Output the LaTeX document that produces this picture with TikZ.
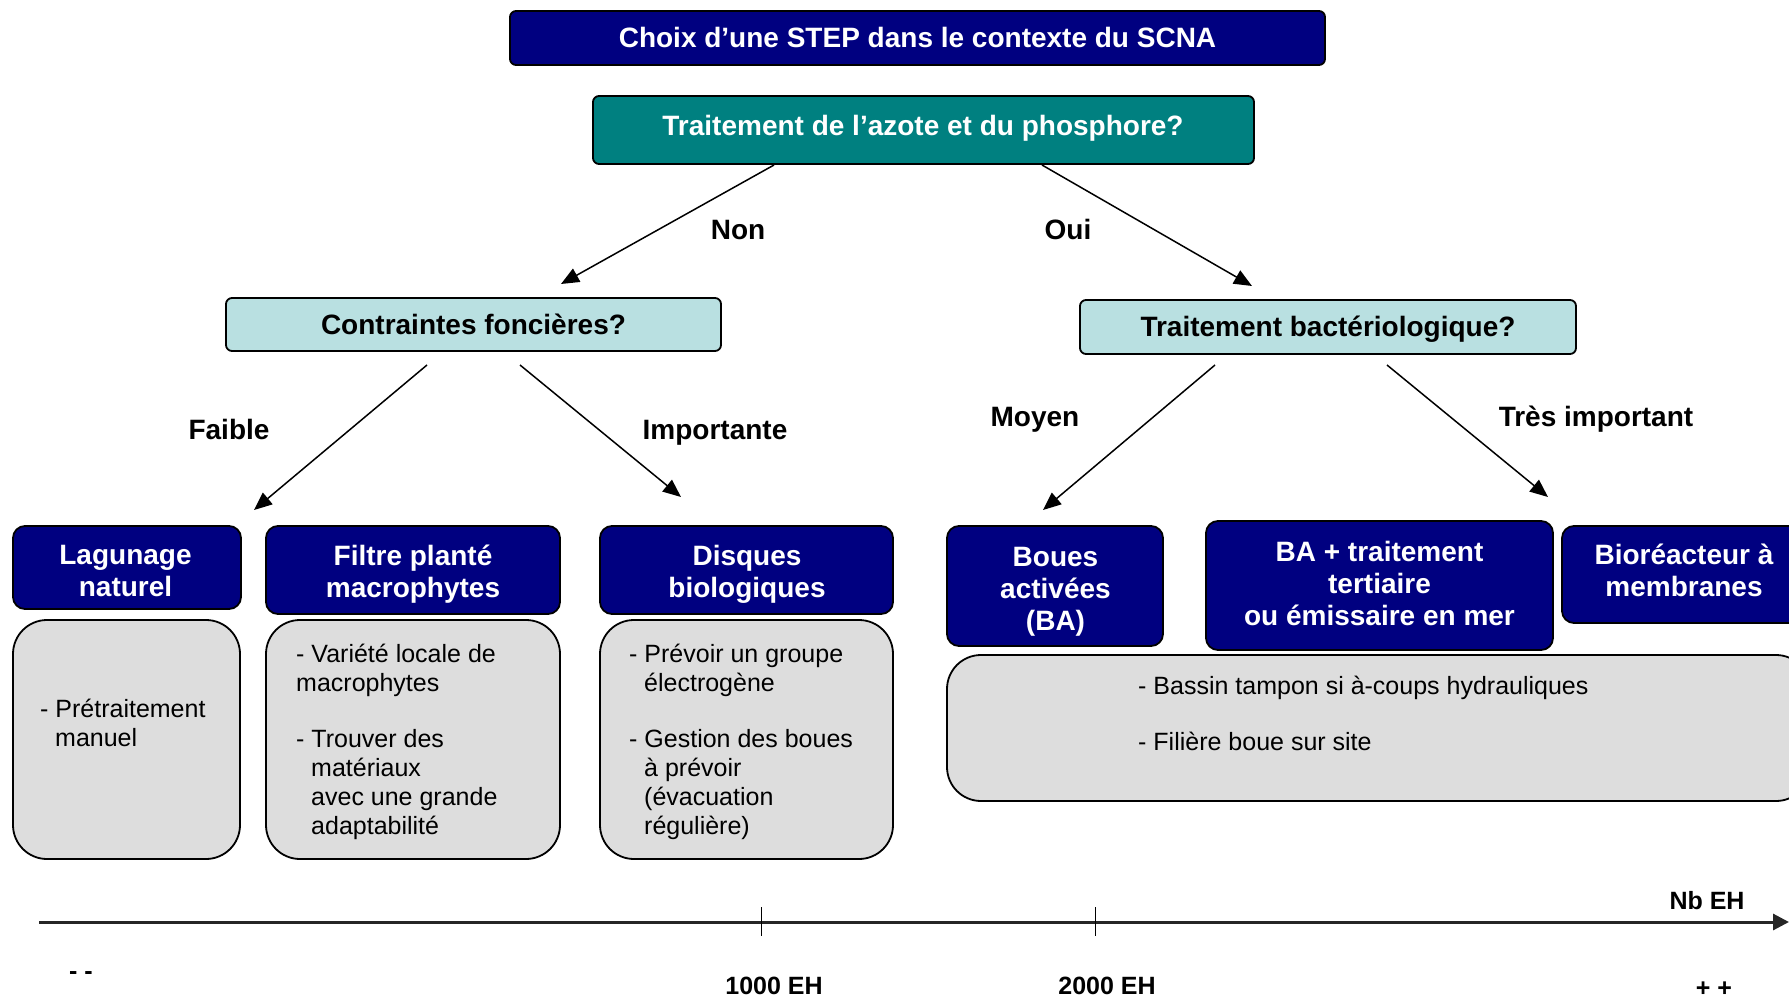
\documentclass[tikz,border=0pt]{standalone}
\usepackage{fontspec}
\setmainfont{Liberation Sans}
\usetikzlibrary{arrows.meta}
\definecolor{navyb}{HTML}{000080}
\definecolor{tealb}{HTML}{008080}
\definecolor{lightb}{HTML}{B9E0E1}
\definecolor{greyb}{HTML}{DDDDDD}
\begin{document}
\begin{tikzpicture}[x=1pt,y=-1pt,
  darkbox/.style={draw=black, line width=1.8pt, fill=navyb, rounded corners=12pt, inner sep=0pt},
  darktext/.style={text=white, font=\fontsize{28}{32}\selectfont\bfseries, align=center, inner sep=0pt},
  topbox/.style={draw=black, line width=1.8pt, rounded corners=6pt, inner sep=0pt,
    font=\fontsize{28}{32}\selectfont\bfseries, text height=23pt, text depth=4pt},
  greybox/.style={draw=black, line width=1.8pt, fill=greyb, rounded corners=34pt, inner sep=0pt},
  greytext/.style={anchor=north west, inner sep=0pt, align=left, font=\fontsize{25}{29}\selectfont},
  lbl/.style={font=\fontsize{28}{32}\selectfont\bfseries, inner sep=0pt, anchor=base},
  axlbl/.style={font=\fontsize{25}{29}\selectfont\bfseries, inner sep=0pt, anchor=base},
  arr/.style={line width=1.5pt, -{Triangle[length=18pt,width=15pt]}},
]
\clip (0,0) rectangle (1789,998);
\fill[white] (0,0) rectangle (1789,998);

% top boxes
\node[topbox, fill=navyb, text=white, minimum width=815, minimum height=54] (title) at (917.5,38) {Choix d’une STEP dans le contexte du SCNA};
\node[topbox, fill=tealb, minimum width=661, minimum height=68] (azote) at (923.5,130) {};
\node[topbox, draw=none, text=white] (azoteT) at (923,125.5) {Traitement de l’azote et du phosphore?};

\node[topbox, fill=lightb, minimum width=495, minimum height=53] (contr) at (473.5,324.5) {Contraintes foncières?};
\node[topbox, fill=lightb, minimum width=496, minimum height=54] (bact) at (1328,327) {Traitement bactériologique?};

% arrows level 1
\coordinate (a1s) at (774,165);
\coordinate (a1e) at (561,284);
\coordinate (a2s) at (1042,165);
\coordinate (a2e) at (1252,286);
\draw[arr] (a1s) -- (a1e);
\draw[arr] (a2s) -- (a2e);
\node[lbl] (non) at (738,239) {Non};
\node[lbl] (oui) at (1068,239) {Oui};

% arrows level 2
\coordinate (b1s) at (427,365);
\coordinate (b1e) at (254,510);
\coordinate (b2s) at (520,365);
\coordinate (b2e) at (681,497);
\coordinate (c1s) at (1215,365);
\coordinate (c1e) at (1043,510);
\coordinate (c2s) at (1387,365);
\coordinate (c2e) at (1548,497);
\draw[arr] (b1s) -- (b1e);
\draw[arr] (b2s) -- (b2e);
\draw[arr] (c1s) -- (c1e);
\draw[arr] (c2s) -- (c2e);
\node[lbl] (faible) at (229,439) {Faible};
\node[lbl] (importante) at (715,439) {Importante};
\node[lbl] (moyen) at (1035,426) {Moyen};
\node[lbl] (tresimp) at (1596,426) {Très important};

% dark boxes
\node[darkbox, minimum width=228, minimum height=83] (lag) at (127,567.5) {};
\node[darkbox, minimum width=294, minimum height=88] (filt) at (413,570) {};
\node[darkbox, minimum width=293, minimum height=88] (disq) at (746.5,570) {};
\node[darkbox, minimum width=216, minimum height=120] (boues) at (1055,586) {};
\node[darkbox, minimum width=347, minimum height=129] (bat) at (1379.5,585.5) {};
\node[darkbox, minimum width=244, minimum height=97] (bior) at (1684,574.5) {};
\node[darktext] (lagT) at (125.5,570.5) {Lagunage\\naturel};
\node[darktext] (filtT) at (413,574) {Filtre planté\\macrophytes};
\node[darktext] (disqT) at (747,574) {Disques\\biologiques};
\node[darktext] (bouesT) at (1055.5,592) {Boues\\activées\\(BA)};
\node[darktext] (batT) at (1379.5,583.8) {BA + traitement\\tertiaire\\ou émissaire en mer};
\node[darktext] (biorT) at (1684,570.5) {Bioréacteur à\\membranes};

% grey boxes
\node[greybox, minimum width=227, minimum height=239] (glag) at (126.5,739.5) {};
\node[greybox, minimum width=294, minimum height=239] (gfilt) at (413,739.5) {};
\node[greybox, minimum width=293, minimum height=239] (gdisq) at (746.5,739.5) {};
\node[greybox, minimum width=863, minimum height=146] (gright) at (1378.5,728) {};

\node[greytext] (tlag) at (40,697) {\strut- Prétraitement\\\hspace*{0.6em}manuel};
\node[greytext] (tfilt) at (296,642) {\strut- Variété locale de\\macrophytes\\[27pt]- Trouver des\\\hspace*{0.6em}matériaux\\\hspace*{0.6em}avec une grande\\\hspace*{0.6em}adaptabilité};
\node[greytext] (tdisq) at (629,642) {\strut- Prévoir un groupe\\\hspace*{0.6em}électrogène\\[27pt]- Gestion des boues\\\hspace*{0.6em}à prévoir\\\hspace*{0.6em}(évacuation\\\hspace*{0.6em}régulière)};
\node[greytext] (tright) at (1138,674) {\strut- Bassin tampon si à-coups hydrauliques\\[27pt]- Filière boue sur site};

% axis
\coordinate (ax0) at (39,922);
\coordinate (ax1) at (1789,922);
\draw[line width=3pt, draw=black!85, -{Triangle[length=16pt,width=16pt]}] (ax0) -- (ax1);
\coordinate (t1a) at (761,907);
\coordinate (t1b) at (761,936);
\coordinate (t2a) at (1095,907);
\coordinate (t2b) at (1095,936);
\draw[line width=1pt] (t1a) -- (t1b);
\draw[line width=1pt] (t2a) -- (t2b);
\node[axlbl] (nbeh) at (1707,909) {Nb EH};
\node[axlbl] (moins) at (81,979.5) {- -};
\node[axlbl] (eh1) at (774,994) {1000 EH};
\node[axlbl] (eh2) at (1107,994) {2000 EH};
\node[axlbl] (plus) at (1714,996) {+ +};
\end{tikzpicture}
\end{document}
